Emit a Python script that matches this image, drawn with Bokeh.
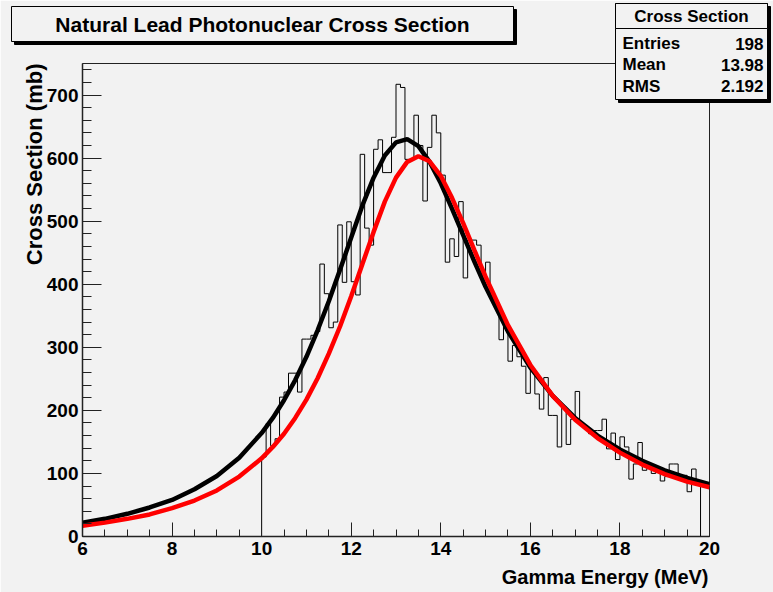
import math
import numpy as np
from bokeh.plotting import figure
from bokeh.layouts import column
from bokeh.models import Range1d, SingleIntervalTicker
from bokeh.core.properties import value
from bokeh.embed import file_html
from bokeh.resources import INLINE

# ---------------- data ----------------
title_text = "Natural Lead Photonuclear Cross Section"
x_label = "Gamma Energy (MeV)"
y_label = "Cross Section (mb)"

stats_name = "Cross Section"
stats_rows = ["Entries", "Mean", "RMS"]
stats_vals = ["198", "13.98", "2.192"]

hist_first_edge = 10.0
hist_bin_width = 0.1
hist_values = [126, 179, 144, 155, 221, 229, 259, 259, 229, 313,
               313, 319, 325, 432, 385, 331, 340, 494, 403, 499,
               404, 383, 606, 489, 462, 614, 629, 577, 577, 633,
               717, 712, 598, 598, 668, 620, 532, 617, 668, 640,
               573, 435, 472, 444, 531, 410, 470, 470, 462, 415,
               435, 387, 371, 312, 340, 278, 303, 285, 270, 227,
               266, 226, 202, 252, 192, 192, 142, 205, 146, 186,
               230, 176, 171, 163, 168, 168, 186, 139, 164, 122,
               158, 142, 91, 115, 149, 105, 110, 100, 110, 88,
               95, 115, 115, 97, 97, 71, 107, 86]

curve_energy = [6, 6.5, 7, 7.5, 8, 8.5, 9, 9.5, 10, 10.25, 10.5, 10.75, 11,
                11.25, 11.5, 11.75, 12, 12.25, 12.5, 12.75, 13, 13.25, 13.5,
                13.75, 14, 14.25, 14.5, 14.75, 15, 15.5, 16, 16.5, 17, 17.5,
                18, 18.5, 19, 19.5, 20]
fit_black = [22, 28, 36, 46, 58, 75, 96, 125, 164, 188, 216, 248, 285,
             327, 373, 423, 474, 525, 569, 604, 625, 630, 619,
             594, 560, 520, 478, 436, 396, 325, 268, 223, 188, 160,
             138, 120, 105, 93, 83]
fit_red = [17, 22, 28, 35, 45, 57, 73, 95, 124, 142, 163, 188, 217,
           251, 290, 333, 381, 432, 483, 531, 569, 594, 603,
           595, 572, 537, 497, 454, 412, 335, 272, 223, 185, 156,
           133, 114, 99, 87, 78]

# ---------------- main figure ----------------
BG = "#f2f2f2"
FONT = "Liberation Sans"
X0, X1, Y0, Y1 = 6, 20, 0, 750
W, H = 773, 592
FL, FR, FT, FB = 82, 709, 63, 536   # frame edges in page pixels

p = figure(width=W, height=H, output_backend="svg", toolbar_location=None,
           x_range=Range1d(X0, X1), y_range=Range1d(Y0, Y1),
           min_border_left=FL, min_border_right=W - FR,
           min_border_top=FT, min_border_bottom=H - FB)
p.background_fill_color = BG
p.border_fill_color = BG
p.outline_line_color = "#222222"
p.outline_line_width = 1
p.grid.visible = False

for ax, interval, minor, tin, tmin in ((p.xaxis, 2, 4, 14, 7), (p.yaxis, 100, 5, 19, 9)):
    ax.ticker = SingleIntervalTicker(interval=interval, num_minor_ticks=minor)
    ax.major_tick_in = tin
    ax.major_tick_out = 0
    ax.minor_tick_in = tmin
    ax.minor_tick_out = 0
    ax.axis_line_width = 1.5
    ax.axis_line_color = "#222222"
    ax.major_tick_line_color = "#222222"
    ax.minor_tick_line_color = "#222222"
    ax.major_label_text_font = FONT
    ax.major_label_text_font_style = "bold"
    ax.major_label_text_font_size = "19px"
    ax.major_label_text_color = "black"
p.xaxis.major_label_standoff = 5
p.yaxis.major_label_standoff = 4

# histogram outline
edges = hist_first_edge + hist_bin_width * np.arange(len(hist_values) + 1)
hx = np.repeat(edges, 2)
hy = np.concatenate([[0], np.repeat(hist_values, 2), [0]])
p.line(hx, hy, line_color="black", line_width=1)

# fit curves
p.line(curve_energy, fit_black, line_color="black", line_width=4.5)
p.line(curve_energy, fit_red, line_color="red", line_width=4.5)

# ---------------- overlay figure (title box, stats box, axis titles) ----------------
o = figure(width=W, height=H, output_backend="svg", toolbar_location=None,
           x_range=Range1d(0, W), y_range=Range1d(0, H),
           x_axis_location=None, y_axis_location=None, title=None,
           min_border=0, min_border_left=0, min_border_right=0,
           min_border_top=0, min_border_bottom=0, margin=(-H, 0, 0, 0))
o.background_fill_alpha = 0
o.border_fill_alpha = 0
o.outline_line_color = None
o.grid.visible = False
for fig in (p, o):
    try:
        fig.frame_align = False
    except Exception:
        pass


def Y(v):  # page pixel (from top) -> overlay coordinate (upwards)
    return H - v


def box(l, r, t, b, fill, line=None):
    o.quad(left=[l], right=[r], top=[Y(t)], bottom=[Y(b)], fill_color=fill,
           line_color=line if line else fill, line_width=1)


def txt(x, y, s, size, align="left", angle=0.0):
    o.text(x=[x], y=[Y(y)], text=[s], angle=angle, text_align=align,
           text_baseline="middle", text_font=value(FONT), text_font_style="bold",
           text_font_size=size, text_color="black")


# title box with shadow
box(14, 516, 9, 44, "black")
box(11, 513, 6, 41, BG, "black")
txt(262, 23.5, title_text, "21px", "center")

# stats box with shadow
box(618, 770, 6, 102, "black")
box(615, 767, 3, 99, BG, "black")
box(615, 767, 3, 28, BG, "black")
txt(691, 16, stats_name, "17px", "center")
for name, val, yy in zip(stats_rows, stats_vals, [43, 64, 85.5]):
    txt(622, yy, name, "17px", "left")
    txt(763, yy, val, "17px", "right")

# axis titles (ROOT style: right-aligned at axis end)
txt(708, 576, x_label, "20px", "right")
txt(34, 63, y_label, "22px", "right", math.pi / 2)

page = column(p, o, spacing=0)
open("out.html", "w").write(file_html(page, INLINE))
